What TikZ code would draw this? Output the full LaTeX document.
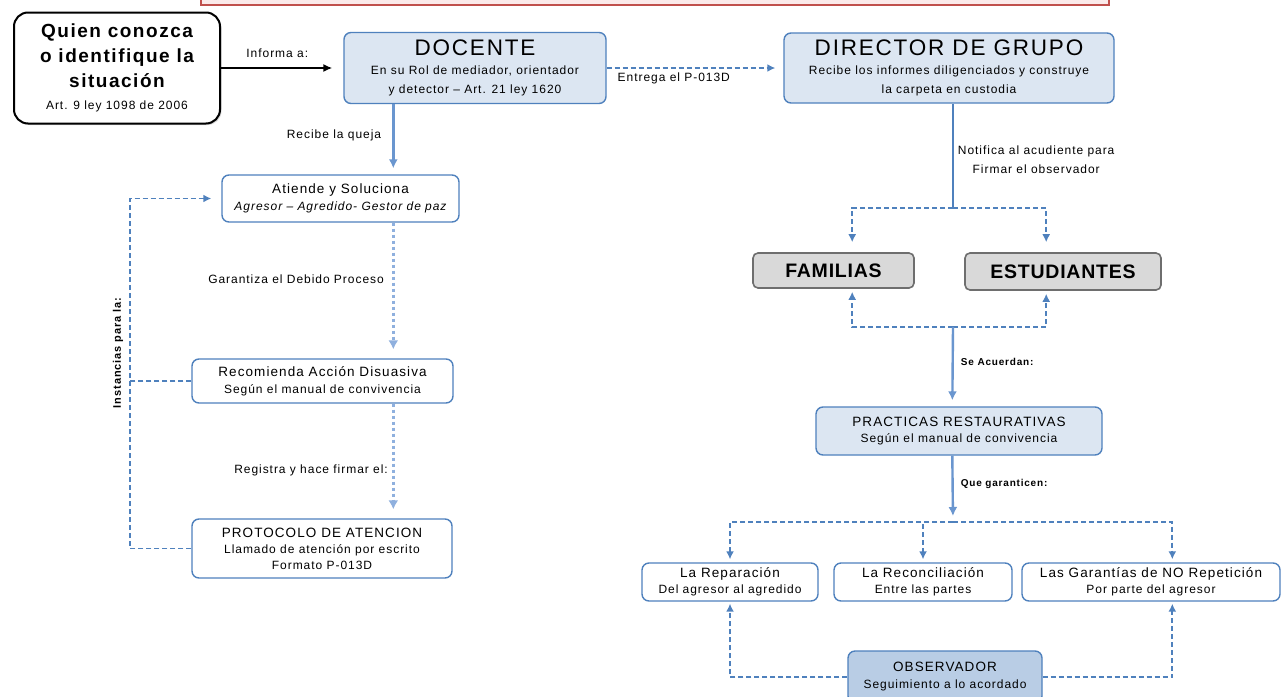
\documentclass[tikz,border=0pt]{standalone}
\usepackage{fontspec}
\setmainfont{Liberation Sans}
\newfontfamily\lsp[LetterSpace=8]{Liberation Sans}
\newfontfamily\lspt[LetterSpace=4]{Liberation Sans}
\usetikzlibrary{arrows.meta,shadows}
\definecolor{bord}{HTML}{4F81BD}
\definecolor{lfill}{HTML}{DCE6F2}
\definecolor{ofill}{HTML}{B9CDE5}
\definecolor{lineb}{HTML}{6A96CF}
\definecolor{dotb}{HTML}{8FB0DE}
\definecolor{gfill}{HTML}{D9D9D9}
\definecolor{gbord}{HTML}{6E6E6E}
\definecolor{redb}{HTML}{C0504D}
\definecolor{redf}{HTML}{FBEAEA}
\newcommand{\fsm}{\lsp\fontsize{12}{17}\selectfont}
\newcommand{\fhd}{\lsp\fontsize{13.5}{17}\selectfont}
\newcommand{\fbig}{\fontsize{22.5}{26}\selectfont}
\tikzset{
 bx/.style={draw=bord, line width=1.4pt, rounded corners=7pt, fill=white, align=center, inner sep=0pt, font=\fsm},
 bxl/.style={bx, fill=lfill},
 gbx/.style={draw=gbord, line width=1.6pt, rounded corners=5pt, fill=gfill, align=center, inner sep=0pt, font=\lspt\bfseries\fontsize{19.5}{22}\selectfont},
 solidarr/.style={draw=lineb, line width=2.4pt, -{Latex[length=9pt,width=9pt]}},
 solidln/.style={draw=bord, line width=1.8pt},
 dasharr/.style={draw=bord, line width=1.8pt, dash pattern=on 5pt off 3pt, -{Latex[length=8pt,width=8pt]}},
 dotarr/.style={draw=dotb, line width=3pt, dash pattern=on 3.5pt off 2.5pt, -{Latex[length=9pt,width=10pt]}},
 dashln/.style={draw=bord, line width=1.8pt, dash pattern=on 5pt off 3pt},
 lbl/.style={font=\fsm, inner sep=1pt},
 lblb/.style={font=\lsp\bfseries\fontsize{10}{12}\selectfont, inner sep=1pt},
}
\begin{document}
\begin{tikzpicture}[x=1pt,y=-1pt]
\useasboundingbox (0,0) rectangle (1281,696);
\fill[white] (0,0) rectangle (1281,696);
% top cut-off banner
\draw[redb, line width=1.5pt, fill=redf] (201,-10) rectangle (1109,5);

% nodes
\node[draw=black, line width=2pt, rounded corners=14pt, fill=white, align=center, inner sep=0pt,
      minimum width=206pt, minimum height=111pt,
      drop shadow={opacity=0.3, shadow xshift=1.5pt, shadow yshift=-1.5pt},
      font=\lsp\bfseries\fontsize{19}{25}\selectfont] (q) at (117,68)
  {Quien conozca\\o identifique la\\situación\\[-3pt]{\mdseries\lsp\fontsize{12}{14}\selectfont Art. 9 ley 1098 de 2006}};

\node[bxl, minimum width=262pt, minimum height=71pt, font=\lsp\fontsize{12}{19}\selectfont] (doc) at (475,68)
  {{\fbig DOCENTE}\\En su Rol de mediador, orientador\\y detector – Art. 21 ley 1620};

\node[bxl, minimum width=330pt, minimum height=70pt, font=\lsp\fontsize{12}{19}\selectfont] (dir) at (949,68)
  {{\fbig DIRECTOR DE GRUPO}\\Recibe los informes diligenciados y construye\\la carpeta en custodia};

\node[bx, minimum width=237pt, minimum height=47pt] (ati) at (340.5,198.5)
  {{\fhd Atiende y Soluciona}\\\itshape Agresor – Agredido- Gestor de paz};

\node[bx, minimum width=261pt, minimum height=44pt] (rec) at (322.5,381)
  {{\fhd Recomienda Acción Disuasiva}\\Según el manual de convivencia};

\node[bx, minimum width=260pt, minimum height=59pt, font=\lsp\fontsize{12}{16}\selectfont] (pro) at (322,548.5)
  {{\fhd PROTOCOLO DE ATENCION}\\Llamado de atención por escrito\\Formato P-013D};

\node[gbx, minimum width=161pt, minimum height=35pt] (fam) at (833.5,270.5) {FAMILIAS};
\node[gbx, minimum width=196pt, minimum height=37pt] (est) at (1063,271.5) {ESTUDIANTES};

\node[bxl, minimum width=286pt, minimum height=48pt, font=\lsp\fontsize{12}{16}\selectfont] (pra) at (959,431)
  {{\fhd PRACTICAS RESTAURATIVAS}\\Según el manual de convivencia};

\node[bx, minimum width=176pt, minimum height=38pt, font=\lsp\fontsize{12}{16}\selectfont] (rep) at (730,582)
  {{\fhd La Reparación}\\Del agresor al agredido};
\node[bx, minimum width=178pt, minimum height=38pt, font=\lsp\fontsize{12}{16}\selectfont] (recon) at (923,582)
  {{\fhd La Reconciliación}\\Entre las partes};
\node[bx, minimum width=258pt, minimum height=38pt, font=\lsp\fontsize{12}{16}\selectfont] (gar) at (1151,582)
  {{\fhd Las Garantías de NO Repetición}\\Por parte del agresor};

\node[bxl, fill=ofill, minimum width=194pt, minimum height=52pt, font=\lsp\fontsize{12}{17}\selectfont] (obs) at (945,677)
  {{\fhd OBSERVADOR}\\Seguimiento a lo acordado};

% connectors - left
\draw[-{Latex[length=9pt,width=8pt]}, line width=1.6pt, black, shorten >=11pt] (q.east) -- (doc.west)
  node[pos=0.46, above=9pt, lbl]{Informa a:};
\draw[dasharr, shorten >=8pt] (doc.east) -- (dir.west)
  node[pos=0.38, below=3pt, lbl]{Entrega el P-013D};
\draw[solidarr, shorten >=6pt] ([xshift=50pt]doc.south west) -- ([xshift=172pt]ati.north west)
  node[pos=0.45, left=10pt, lbl]{Recibe la queja};
\draw[dotarr, shorten >=9pt] ([xshift=172pt]ati.south west) -- ([xshift=202pt]rec.north west)
  node[pos=0.42, left=7pt, lbl]{Garantiza el Debido Proceso};
\draw[dotarr, shorten >=9pt] ([xshift=202pt]rec.south west) -- ([xshift=202pt]pro.north west)
  node[pos=0.58, left=3pt, lbl]{Registra y hace firmar el:};

\coordinate (lt) at (130,198.5);
\draw[dasharr, shorten >=10pt] (pro.west) -| (lt) -- (ati.west);
\draw[dashln] (rec.west) -- (rec.west -| lt);
\node[lblb, font=\lsp\bfseries\fontsize{11}{13}\selectfont, rotate=90] (inst) at (118,353) {Instancias para la:};

% connectors - right
\coordinate (j1) at (953,208);
\draw[solidln] ([xshift=4pt]dir.south) -- (j1)
  node[pos=0.54, right=3pt, align=center, font=\lsp\fontsize{12}{19}\selectfont, inner sep=1pt]{Notifica al acudiente para\\Firmar el observador};
\draw[dasharr, shorten >=10pt] (j1) -| ([xshift=100pt]fam.north west);
\draw[dasharr, shorten >=10pt] (j1) -| ([xshift=82pt]est.north west);

\coordinate (j2) at (953,327);
\draw[dasharr, shorten >=3pt] (j2) -| ([xshift=100pt]fam.south west);
\draw[dasharr, shorten >=3pt] (j2) -| ([xshift=82pt]est.south west);
\draw[solidarr, shorten >=6pt] (j2) -- ([xshift=137pt]pra.north west)
  node[pos=0.44, right=6pt, lblb]{Se Acuerdan:};

\coordinate (j3) at (953,522);
\draw[solidarr, shorten >=6pt] ([xshift=137pt]pra.south west) -- (j3)
  node[pos=0.43, right=6pt, lblb]{Que garanticen:};
\draw[dasharr, shorten >=3pt] (j3) -| (rep.north);
\draw[dasharr, shorten >=3pt] (j3) -| (recon.north);
\draw[dasharr, shorten >=3pt] (j3) -| ([xshift=151pt]gar.north west);

\draw[dasharr, shorten >=2pt] (obs.west) -| (rep.south);
\draw[dasharr, shorten >=2pt] (obs.east) -| ([xshift=151pt]gar.south west);
\end{tikzpicture}
\end{document}
